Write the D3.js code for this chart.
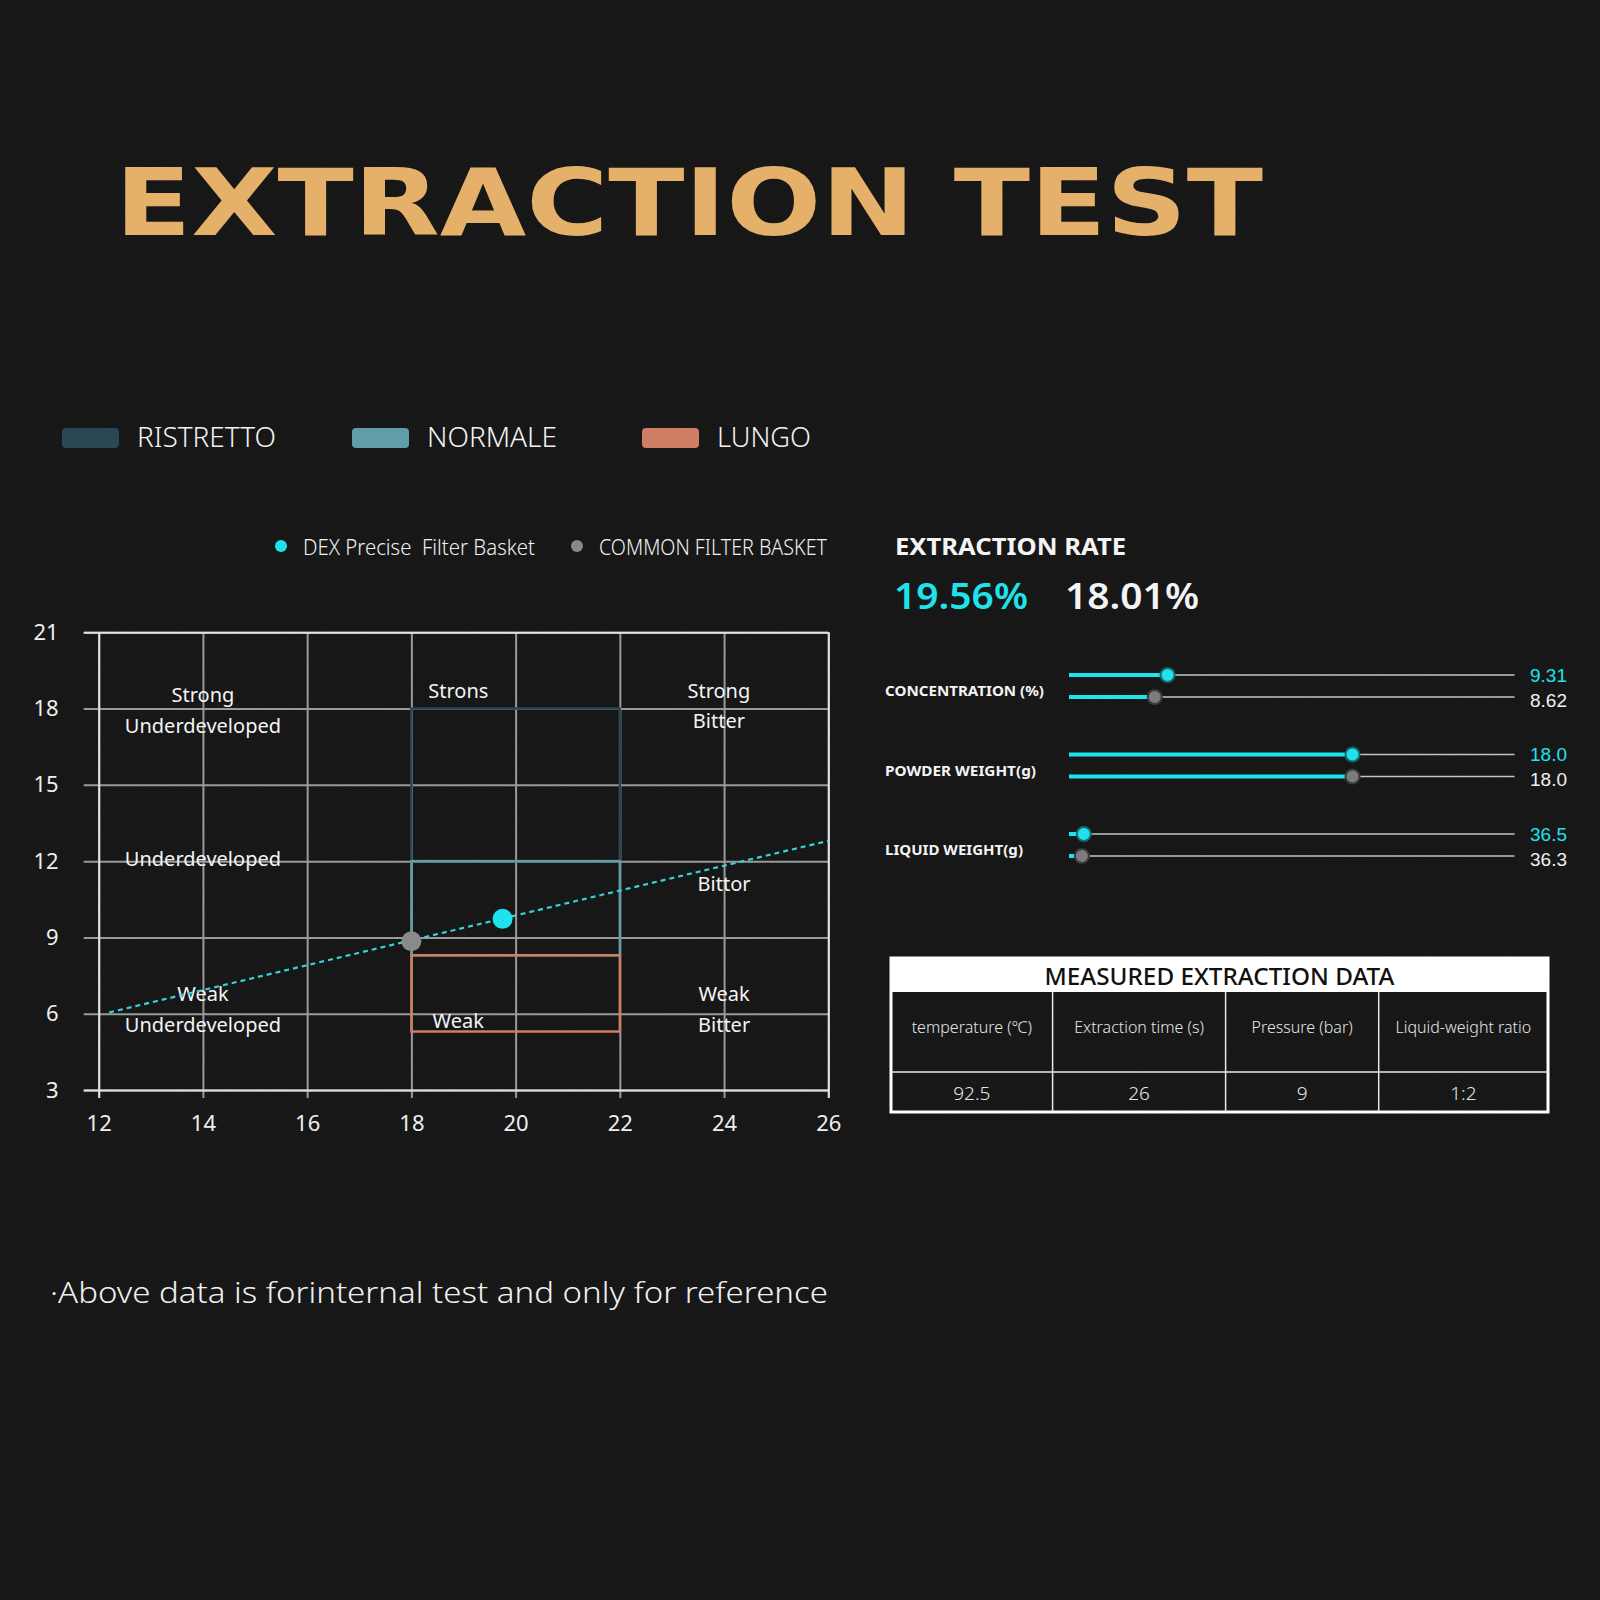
<!DOCTYPE html>
<html><head><meta charset="utf-8">
<script src="https://cdn.jsdelivr.net/npm/d3@7"></script>
<style>
html,body{margin:0;padding:0;background:#141414;}
svg{display:block;}
</style></head><body>
<svg id="c" width="1600" height="1600"></svg>
<script>
// ---------- data ----------
const titleText = "EXTRACTION TEST";
const zoneNames = ["RISTRETTO", "NORMALE", "LUNGO"];
const zoneColors = ["#2b4756", "#5f9ea8", "#cd7e64"];
const zoneX0 = [18, 18, 18];
const zoneX1 = [22, 22, 22];
const zoneY0 = [12, 8.3, 5.3];
const zoneY1 = [18, 12, 8.3];
const seriesNames = ["DEX Precise  Filter Basket", "COMMON FILTER BASKET"];
const seriesColors = ["#1fe3ec", "#8a8a8a"];
const pointX = [19.75, 18.0];
const pointY = [9.73, 8.85];
const trendX = [12.2, 26];
const trendY = [6.05, 12.8];
const xTicks = [12, 14, 16, 18, 20, 22, 24, 26];
const yTicks = [3, 6, 9, 12, 15, 18, 21];
const regionText = ["Strong", "Underdeveloped", "Underdeveloped", "Weak", "Underdeveloped",
                    "Strons", "Weak", "Strong", "Bitter", "Bittor", "Weak", "Bitter"];
const regionX = [14, 14, 14, 14, 14, 18.9, 18.9, 23.9, 23.9, 24.0, 24.0, 24.0];
const regionY = [18.55, 17.35, 12.1, 6.78, 5.56, 18.73, 5.72, 18.73, 17.55, 11.13, 6.78, 5.56];
const rateTitle = "EXTRACTION RATE";
const rateValues = ["19.56%", "18.01%"];
const sliderLabels = ["CONCENTRATION (%)", "POWDER WEIGHT(g)", "LIQUID WEIGHT(g)"];
const dexValues = [9.31, 18.0, 36.5];
const commonValues = [8.62, 18.0, 36.3];
const valueFormats = [".2f", ".1f", ".1f"];
const sliderMin = [4, 4, 35];
const sliderMax = [28, 26, 80];
const tableTitle = "MEASURED EXTRACTION DATA";
const tableHeaders = ["temperature (℃)", "Extraction time (s)", "Pressure (bar)", "Liquid-weight ratio"];
const tableValues = ["92.5", "26", "9", "1:2"];
const footnote = "·Above data is forinternal test and only for reference";

// ---------- setup ----------
const svg = d3.select("#c");
const FONT = "'Noto Sans', 'Open Sans', sans-serif";
const defs = svg.append("defs");
const noise = defs.append("filter").attr("id", "noise").attr("x", 0).attr("y", 0).attr("width", "100%").attr("height", "100%");
noise.append("feTurbulence").attr("type", "fractalNoise").attr("baseFrequency", 0.85).attr("numOctaves", 2).attr("seed", 3);
noise.append("feColorMatrix").attr("type", "matrix")
  .attr("values", "0 0 0 0 1  0 0 0 0 1  0 0 0 0 1  0 0 0 0.045 0");
svg.append("rect").attr("width", 1600).attr("height", 1600).attr("fill", "#121212");
svg.append("rect").attr("width", 1600).attr("height", 1600).attr("filter", "url(#noise)");

function fit(sel, w) {
  sel.attr("textLength", w).attr("lengthAdjust", "spacingAndGlyphs");
  return sel;
}

// ---------- title ----------
fit(svg.append("text").attr("x", 115).attr("y", 235)
  .attr("fill", "#e4b06a").style("font", "bold 92px 'DejaVu Sans', sans-serif")
  .text(titleText), 1148);

// ---------- zone legend ----------
const zl = d3.scalePoint().domain(zoneNames).range([62, 642]);
const zlWidths = [139, 130, 94];
const zg = svg.append("g").selectAll("g").data(zoneNames).join("g")
  .attr("transform", d => `translate(${zl(d)},0)`);
zg.append("rect").attr("y", 428).attr("width", 57).attr("height", 20).attr("rx", 4)
  .attr("fill", (d, i) => zoneColors[i]);
zg.each(function (d, i) {
  fit(d3.select(this).append("text").attr("x", 75).attr("y", 447)
    .attr("fill", "#f2f2f2").style("font", `300 28px ${FONT}`).text(d), zlWidths[i]);
});

// ---------- series legend ----------
const sl = d3.scalePoint().domain(seriesNames).range([281, 577]);
const slWidths = [232, 228];
const sg = svg.append("g").selectAll("g").data(seriesNames).join("g")
  .attr("transform", d => `translate(${sl(d)},0)`);
sg.append("circle").attr("cy", 546).attr("r", 6).attr("fill", (d, i) => seriesColors[i]);
sg.each(function (d, i) {
  fit(d3.select(this).append("text").attr("x", 22).attr("y", 555)
    .attr("fill", "#f0f0f0").style("font", `300 21px ${FONT}`).style("white-space", "pre").text(d), slWidths[i]);
});

// ---------- chart ----------
const x = d3.scaleLinear().domain([12, 26]).range([98.7, 828.3]);
const y = d3.scaleLinear().domain([3, 21]).range([1090, 632.3]);
const extL = 15, extB = 8;
const W = x(26) - x(12), H = y(3) - y(21);

function gridY(ticks, color, labels) {
  const g = svg.append("g").attr("transform", `translate(${x(12) - extL},0)`)
    .call(d3.axisLeft(y).tickValues(ticks).tickSize(-(W + extL)).tickPadding(25)
      .tickFormat(labels ? d3.format("d") : ""));
  g.select(".domain").remove();
  g.selectAll("line").attr("stroke", color).attr("stroke-width", 2);
  g.selectAll("text").attr("fill", "#efefef").style("font", `22px ${FONT}`);
}
function gridX(ticks, color, labels) {
  const g = svg.append("g").attr("transform", `translate(0,${y(3) + extB})`)
    .call(d3.axisBottom(x).tickValues(ticks).tickSize(-(H + extB)).tickPadding(17)
      .tickFormat(labels ? d3.format("d") : ""));
  g.select(".domain").remove();
  g.selectAll("line").attr("stroke", color).attr("stroke-width", 2);
  g.selectAll("text").attr("fill", "#efefef").style("font", `22px ${FONT}`);
}
gridX(xTicks, "#9a9a9a", true);
gridY(yTicks, "#9a9a9a", true);
gridX([12, 26], "#e2e2e2", false);
gridY([3, 21], "#e2e2e2", false);

// zones
svg.append("g").selectAll("rect").data(zoneNames).join("rect")
  .attr("x", (d, i) => x(zoneX0[i])).attr("width", (d, i) => x(zoneX1[i]) - x(zoneX0[i]))
  .attr("y", (d, i) => y(zoneY1[i])).attr("height", (d, i) => y(zoneY0[i]) - y(zoneY1[i]))
  .attr("fill", "none").attr("stroke", (d, i) => zoneColors[i]).attr("stroke-width", 2.5);

// region labels
svg.append("g").selectAll("text").data(regionText).join("text")
  .attr("x", (d, i) => x(regionX[i])).attr("y", (d, i) => y(regionY[i]))
  .attr("text-anchor", "middle").attr("dominant-baseline", "central")
  .attr("fill", "#f4f4f4").style("font", `20px ${FONT}`).text(d => d);

// trend line
const trend = trendX.map((v, i) => [v, trendY[i]]);
svg.append("path").datum(trend)
  .attr("d", d3.line().x(d => x(d[0])).y(d => y(d[1])))
  .attr("fill", "none").attr("stroke", "#35d3d8").attr("stroke-width", 2.2)
  .attr("stroke-dasharray", "5 4");

// points
svg.append("g").selectAll("circle").data(pointX).join("circle")
  .attr("cx", d => x(d)).attr("cy", (d, i) => y(pointY[i])).attr("r", 10)
  .attr("fill", (d, i) => seriesColors[i]);

// ---------- extraction rate ----------
fit(svg.append("text").attr("x", 895).attr("y", 555).attr("fill", "#f4f4f4")
  .style("font", `bold 24px ${FONT}`).text(rateTitle), 231);
const rx = d3.scalePoint().domain(rateValues).range([894, 1065]);
const rateColors = ["#1fe3ec", "#f4f4f4"];
rateValues.forEach((v, i) => {
  fit(svg.append("text").attr("x", rx(v)).attr("y", 609).attr("fill", rateColors[i])
    .style("font", `600 36px ${FONT}`).text(v), 134);
});

// ---------- sliders ----------
const rowY = d3.scalePoint().domain(sliderLabels).range([686, 845]);
const trackX0 = 1069, trackX1 = 1514.5;
const labelW = [159, 151, 138];
sliderLabels.forEach((lab, i) => {
  const cy = rowY(lab);
  fit(svg.append("text").attr("x", 885).attr("y", cy + 4).attr("dominant-baseline", "central")
    .attr("fill", "#f4f4f4").style("font", `bold 15px ${FONT}`).text(lab), labelW[i]);
  const s = d3.scaleLinear().domain([sliderMin[i], sliderMax[i]]).range([trackX0, trackX1]);
  const rows = [
    { v: dexValues[i], ty: cy - 11, dy: 0, knob: "#1fe3ec", ring: "#17666b", txt: "#1fe3ec" },
    { v: commonValues[i], ty: cy + 11, dy: 3, knob: "#7c7c7c", ring: "#3a3a3a", txt: "#f0f0f0" }
  ];
  rows.forEach(r => {
    svg.append("line").attr("x1", trackX0).attr("x2", trackX1).attr("y1", r.ty).attr("y2", r.ty)
      .attr("stroke", "#c4c4c4").attr("stroke-width", 1.5);
    svg.append("line").attr("x1", s(sliderMin[i])).attr("x2", s(r.v)).attr("y1", r.ty).attr("y2", r.ty)
      .attr("stroke", "#1fe3ec").attr("stroke-width", 4);
    svg.append("circle").attr("cx", s(r.v)).attr("cy", r.ty).attr("r", 7)
      .attr("fill", r.knob).attr("stroke", r.ring).attr("stroke-width", 2);
    svg.append("text").attr("x", 1530).attr("y", r.ty + r.dy).attr("dominant-baseline", "central")
      .attr("fill", r.txt).style("font", `19px 'Liberation Sans', sans-serif`)
      .text(d3.format(valueFormats[i])(r.v));
  });
});

// ---------- table ----------
const tX0 = 891, tX1 = 1548, tY0 = 958, tY1 = 1112;
const colEdges = [891, 1052.6, 1225.6, 1378.7, 1548];
const tg = svg.append("g");
tg.append("rect").attr("x", tX0).attr("y", tY0).attr("width", tX1 - tX0).attr("height", 34).attr("fill", "#ffffff");
fit(tg.append("text").attr("x", (tX0 + tX1) / 2 - 175).attr("y", 985)
  .attr("fill", "#111").style("font", `500 23px ${FONT}`).text(tableTitle), 350);
tg.append("rect").attr("x", tX0).attr("y", tY0).attr("width", tX1 - tX0).attr("height", tY1 - tY0)
  .attr("fill", "none").attr("stroke", "#ffffff").attr("stroke-width", 3);
tg.append("line").attr("x1", tX0).attr("x2", tX1).attr("y1", 1072).attr("y2", 1072)
  .attr("stroke", "#e8e8e8").attr("stroke-width", 1.5);
tg.selectAll(".vl").data(colEdges.slice(1, -1)).join("line")
  .attr("x1", d => d).attr("x2", d => d).attr("y1", 992).attr("y2", tY1)
  .attr("stroke", "#e8e8e8").attr("stroke-width", 1.5);
tg.selectAll(".th").data(tableHeaders).join("text")
  .attr("x", (d, i) => (colEdges[i] + colEdges[i + 1]) / 2).attr("y", 1033)
  .attr("text-anchor", "middle").attr("fill", "#e6e6e6").style("font", `300 16px ${FONT}`).text(d => d);
tg.selectAll(".tv").data(tableValues).join("text")
  .attr("x", (d, i) => (colEdges[i] + colEdges[i + 1]) / 2).attr("y", 1100)
  .attr("text-anchor", "middle").attr("fill", "#e6e6e6").style("font", `300 19px ${FONT}`).text(d => d);

// ---------- footnote ----------
fit(svg.append("text").attr("x", 50).attr("y", 1303).attr("fill", "#f0f0f0")
  .style("font", `300 30px ${FONT}`).text(footnote), 778);
</script>
</body></html>
